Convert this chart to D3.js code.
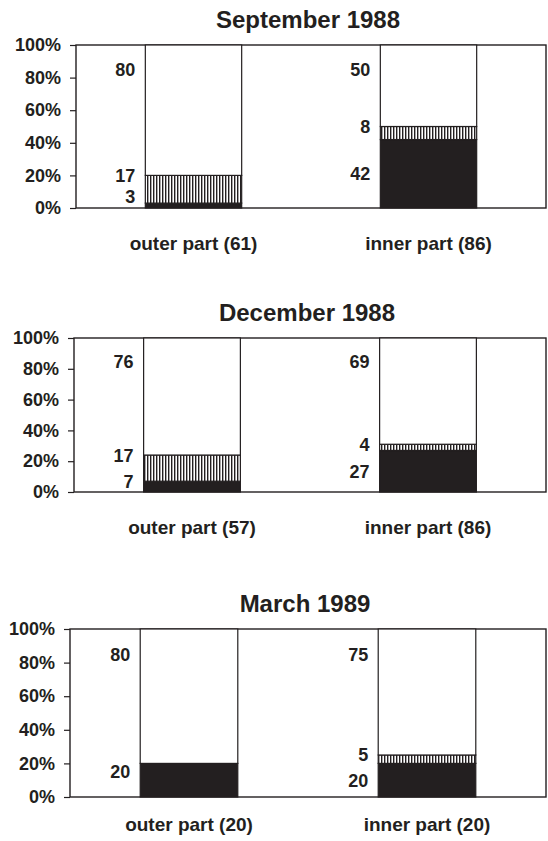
<!DOCTYPE html>
<html>
<head>
<meta charset="utf-8">
<script src="https://cdn.jsdelivr.net/npm/d3@7"></script>
<style>
  body { margin: 0; background: #fff; }
  svg { display: block; font-family: "Liberation Sans", Arial, sans-serif; }
</style>
</head>
<body>
<svg id="chart" width="548" height="841"></svg>
<script>
// data (percent of sample per part)
const panelTitles = ["September 1988", "December 1988", "March 1989"];
const partNames = ["outer part", "inner part"];
const partCounts = [[61, 86], [57, 86], [20, 20]];
const blackValues = [[3, 42], [7, 27], [20, 20]];
const hatchValues = [[17, 8], [17, 4], [0, 5]];
const whiteValues = [[80, 50], [76, 69], [80, 75]];
const yTicks = [0, 20, 40, 60, 80, 100];

// panel layout in pixels
const layout = [
  { top: 45, bottom: 208, left: 76, catGap: 35 },
  { top: 338, bottom: 492, left: 74, catGap: 35 },
  { top: 629, bottom: 797, left: 70, catGap: 27 }
];
const right = 546;
const ink = "#231f20";

const svg = d3.select("#chart");

const defs = svg.append("defs");
const pat = defs.append("pattern")
  .attr("id", "vstripes")
  .attr("patternUnits", "userSpaceOnUse")
  .attr("width", 3)
  .attr("height", 4);
pat.append("rect").attr("width", 3).attr("height", 4).attr("fill", "#fff");
pat.append("rect").attr("width", 1.4).attr("height", 4).attr("fill", ink);

panelTitles.forEach((title, p) => {
  const L = layout[p];
  const g = svg.append("g");

  const y = d3.scaleLinear().domain([0, 100]).range([L.bottom, L.top]);
  const x = d3.scaleBand()
    .domain(partNames)
    .range([L.left, right])
    .paddingInner(0.59)
    .paddingOuter(0.295);

  // title
  g.append("text")
    .attr("x", (L.left + right) / 2 - 3)
    .attr("y", L.top - 17)
    .attr("text-anchor", "middle")
    .attr("font-size", "24px")
    .attr("font-weight", "bold")
    .attr("fill", ink)
    .text(title);

  // y axis
  const yAxis = g.append("g")
    .attr("transform", `translate(${L.left},0)`)
    .call(d3.axisLeft(y).tickValues(yTicks).tickSize(6).tickPadding(9)
      .tickFormat(d => d + "%"));
  yAxis.select(".domain").remove();
  yAxis.selectAll("line").attr("stroke", ink).attr("stroke-width", 1.2);
  yAxis.selectAll("text")
    .attr("font-size", "18px")
    .attr("font-weight", "bold")
    .attr("font-family", "'Liberation Sans', Arial, sans-serif")
    .attr("fill", ink);

  // frame
  g.append("rect")
    .attr("x", L.left)
    .attr("y", L.top)
    .attr("width", right - L.left)
    .attr("height", L.bottom - L.top)
    .attr("fill", "none")
    .attr("stroke", ink)
    .attr("stroke-width", 1.4);

  partNames.forEach((name, i) => {
    const b = blackValues[p][i];
    const h = hatchValues[p][i];
    const w = whiteValues[p][i];
    const segs = [
      { v0: 0, v1: b, fill: ink, val: b },
      { v0: b, v1: b + h, fill: "url(#vstripes)", val: h },
      { v0: b + h, v1: b + h + w, fill: "#fff", val: w }
    ];
    const bx = x(name);
    const bw = x.bandwidth();

    segs.filter(s => s.val > 0).forEach(s => {
      g.append("rect")
        .attr("x", bx)
        .attr("y", y(s.v1))
        .attr("width", bw)
        .attr("height", y(s.v0) - y(s.v1))
        .attr("fill", s.fill)
        .attr("stroke", ink)
        .attr("stroke-width", 1.2);
    });

    // value labels to the left of the bar
    const labels = [];
    labels.push({ at: 85, text: w });
    let mid = null;
    if (h > 0) {
      mid = b + h;
      labels.push({ at: mid, text: h });
    }
    let low = mid === null ? b * 0.75 : Math.max(b / 2, 7);
    if (mid !== null && mid - low < 13) low = mid - 13;
    if (b > 0) labels.push({ at: low, text: b });

    labels.forEach(lb => {
      g.append("text")
        .attr("x", bx - 10)
        .attr("y", y(lb.at))
        .attr("dy", "0.36em")
        .attr("text-anchor", "end")
        .attr("font-size", "18px")
        .attr("font-weight", "bold")
        .attr("fill", ink)
        .text(lb.text);
    });

    // category label
    g.append("text")
      .attr("x", bx + bw / 2)
      .attr("y", L.bottom + L.catGap)
      .attr("dy", "0.36em")
      .attr("text-anchor", "middle")
      .attr("font-size", "19px")
      .attr("font-weight", "bold")
      .attr("fill", ink)
      .text(`${name} (${partCounts[p][i]})`);
  });
});
</script>
</body>
</html>
